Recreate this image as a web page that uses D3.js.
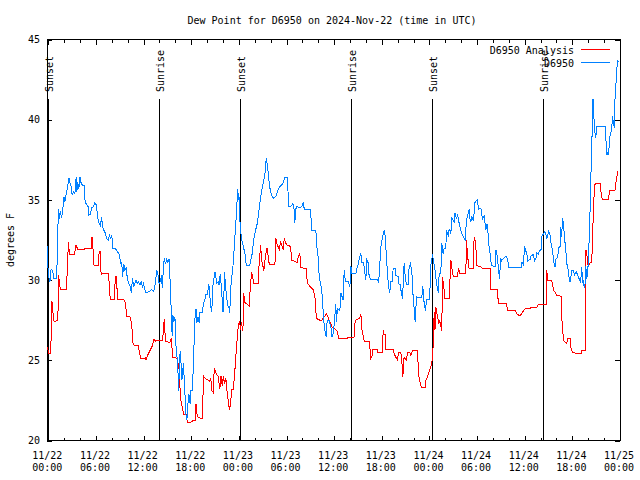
<!DOCTYPE html>
<html><head><meta charset="utf-8">
<script src="https://cdn.jsdelivr.net/npm/d3@7"></script>
<style>
body{margin:0;background:#fff}
svg text{font-family:"DejaVu Sans Mono",monospace;font-size:10px;fill:#000}
</style></head>
<body><svg id="c" width="640" height="480"></svg>
<script>
const baseTime = "2024-11-22T00:00:00Z";
const titleText = "Dew Point for D6950 on 2024-Nov-22 (time in UTC)";
const yLabel = "degrees F";
const seriesNames = ["D6950 Analysis", "D6950"];
const seriesColors = ["#ff0000", "#0080ff"];
const yTicks = [20, 25, 30, 35, 40, 45];
const sunEvents = ["Sunset", "Sunrise", "Sunset", "Sunrise", "Sunset", "Sunrise"];
const sunTimes = ["2024-11-22T00:00:00Z", "2024-11-22T13:58:00Z", "2024-11-23T00:10:00Z",
                  "2024-11-23T14:11:00Z", "2024-11-24T00:20:00Z", "2024-11-24T14:19:00Z"];

// hours since 2024-11-22 00:00 UTC
const analysisHours = [-0.15,0.1,0.25,0.35,0.45,0.55,0.65,0.75,1.2,1.3,1.45,1.6,2.3,2.35,2.45,2.55,2.65,3.3,3.5,3.7,
4.5,4.6,5.4,5.5,5.6,5.7,5.8,6.3,6.4,6.55,6.65,6.75,7.55,7.65,7.8,8.3,8.45,8.6,8.7,9.5,
9.7,9.9,10.3,10.5,10.65,10.8,11.35,11.5,11.65,12.2,12.3,12.5,12.8,13.1,13.3,13.5,14.0,14.4,14.6,14.75,
15.3,15.5,15.65,16.0,16.2,16.45,16.55,16.7,16.9,17.05,17.4,17.5,17.95,18.1,18.3,18.5,18.6,18.75,19.1,19.4,
19.55,19.7,20.3,20.45,20.6,20.75,20.9,21.1,21.4,21.6,21.75,21.9,22.05,22.2,22.35,22.5,22.65,22.8,22.95,23.1,
23.3,23.5,23.7,23.95,24.1,24.2,24.35,24.45,24.55,24.6,24.76,25.3,25.39,25.6,25.89,26.43,26.55,26.74,26.86,27.15,
27.35,27.55,27.69,27.82,28.54,28.66,28.83,29.1,29.25,29.58,29.71,29.92,30.01,30.51,30.64,31.34,31.47,31.68,31.77,32.02,
32.1,32.53,32.6,33.36,33.57,33.7,33.79,34.42,34.54,35.05,35.12,35.55,35.7,36.2,36.4,36.55,36.65,37.7,37.75,38.5,
38.6,38.8,39.2,39.36,39.5,39.78,40.4,40.5,40.6,40.75,40.84,41.47,41.5,42.1,42.17,42.3,42.42,42.5,43.43,43.55,
43.98,44.1,44.4,44.52,44.65,44.81,45.1,45.24,45.53,45.66,45.87,46.5,46.63,46.8,46.9,47.04,47.46,47.55,47.85,48.18,
48.3,48.45,48.6,48.7,48.8,49.0,49.2,49.3,49.55,49.65,49.85,49.9,50.48,50.7,50.9,51.0,51.55,51.65,51.83,52.58,
52.67,52.8,52.92,53.0,53.5,53.63,53.84,53.93,54.6,54.68,55.64,55.7,56.57,56.65,56.7,57.74,57.8,58.79,59.0,59.42,
59.7,60.05,60.68,60.8,61.52,61.73,62.56,62.7,62.78,62.9,63.4,63.62,64.04,64.58,64.66,64.88,65.29,65.42,65.71,65.84,
66.01,66.77,67.1,67.18,67.6,67.69,67.81,68.0,68.23,68.44,68.53,68.7,68.86,69.49,69.6,69.79,70.54,70.7,71.37,71.5,
71.71];
const analysisDewpoint = [25.8,25.4,25.4,26.3,28.7,28.3,27.5,27.4,27.5,30.3,29.6,29.4,29.4,30.2,31.5,32.4,31.6,31.6,32.2,31.9,
31.9,32.0,32.0,32.7,32.3,31.0,30.9,30.9,31.8,31.8,30.3,30.4,30.4,29.9,28.8,28.8,30.2,30.2,28.8,28.8,
28.6,27.7,27.7,27.3,26.1,25.95,25.9,25.4,25.1,25.15,25.0,25.3,25.6,25.9,26.3,26.2,26.25,26.25,27.6,26.2,
26.1,26.4,25.2,25.2,25.1,24.6,23.5,22.5,22.0,21.6,21.6,21.15,21.15,21.2,21.25,21.25,22.3,21.5,21.4,21.4,
24.0,23.9,23.7,23.9,23.1,23.0,24.5,24.2,24.0,23.2,24.0,23.4,24.0,23.5,23.9,23.1,22.5,21.9,22.3,23.2,
23.2,24.4,25.8,27.3,27.4,26.9,27.4,26.8,27.3,29.2,28.6,28.4,29.2,30.5,29.8,29.8,31.0,32.2,31.25,30.6,
31.5,32.0,31.5,31.0,31.0,32.6,32.2,31.9,32.4,31.9,32.6,32.3,32.2,32.1,31.25,31.1,31.45,31.7,30.8,30.8,
30.75,30.75,29.8,29.4,29.0,28.0,27.6,27.45,27.6,27.9,27.8,27.3,27.1,26.9,26.8,26.4,26.35,26.35,26.45,26.45,
27.3,27.55,27.6,27.9,26.9,26.2,26.2,25.8,25.1,25.2,25.7,25.7,25.5,25.5,26.9,26.6,26.6,25.7,25.7,25.4,
25.0,25.5,25.5,25.0,23.95,25.2,25.0,25.5,25.5,25.3,25.6,25.6,24.05,23.7,23.45,23.3,23.3,23.75,24.1,24.6,
24.8,25.75,28.0,26.9,28.3,27.8,27.3,27.5,26.8,30.2,29.4,28.85,28.85,31.25,30.5,30.25,30.25,30.75,30.4,30.4,
32.5,31.5,31.05,30.7,30.7,32.7,32.3,30.9,30.8,30.7,30.7,29.4,29.4,28.75,28.55,28.55,28.1,28.1,27.9,27.75,
28.0,28.2,28.2,28.3,28.3,28.5,28.5,28.5,30.6,30.0,30.0,29.4,29.05,29.0,27.7,26.25,26.05,26.35,26.35,25.7,
25.5,25.4,25.4,25.6,25.6,31.9,31.7,30.8,31.1,31.1,32.5,35.0,36.0,36.0,35.5,35.0,35.0,35.6,35.6,36.1,
36.8];

const stationHours = [-0.15,-0.05,0.05,0.2,0.35,0.55,0.7,1.0,1.1,1.2,1.3,1.4,1.5,1.65,1.8,1.95,2.1,2.3,2.45,2.6,
2.7,2.85,3.0,3.2,3.35,3.5,3.6,3.7,3.85,4.0,4.1,4.3,4.5,4.6,4.8,5.0,5.1,5.3,5.45,5.7,
5.85,6.05,6.2,6.4,6.55,6.7,6.85,7.0,7.2,7.35,7.55,7.7,7.85,8.0,8.1,8.4,8.55,8.8,8.95,9.1,
9.25,9.35,9.5,9.65,9.8,9.95,10.1,10.3,10.45,10.6,10.75,10.9,11.05,11.2,11.35,11.55,11.7,11.85,12.0,12.15,
12.3,12.5,12.75,13.0,13.2,13.35,13.5,13.65,13.8,13.95,14.1,14.25,14.35,14.5,14.6,14.75,14.9,15.05,15.2,15.3,
15.4,15.5,15.6,15.7,15.8,15.95,16.05,16.15,16.3,16.4,16.5,16.6,16.7,16.8,16.9,17.0,17.1,17.25,17.35,17.45,
17.55,17.7,17.85,17.95,18.15,18.25,18.35,18.45,18.6,18.7,18.85,19.0,19.1,19.4,19.55,19.7,19.85,20.05,20.2,20.3,
20.4,20.55,20.65,20.75,20.9,21.0,21.1,21.2,21.4,21.5,21.65,21.75,21.9,22.0,22.1,22.2,22.3,22.45,22.6,22.75,
22.85,22.95,23.05,23.2,23.3,23.45,23.55,23.7,23.85,23.95,24.05,24.15,24.3,24.5,24.6,24.75,24.9,25.0,25.35,25.5,
25.7,25.85,26.1,26.3,26.55,26.75,26.95,27.1,27.25,27.35,27.45,27.55,27.7,27.85,28.0,28.2,28.4,28.6,28.75,28.9,
29.1,29.35,29.6,29.75,30.1,30.2,30.3,30.55,30.7,30.8,30.95,31.05,31.15,31.3,31.7,31.95,32.1,32.25,32.7,33.03,
33.16,33.7,33.79,33.95,34.05,34.2,34.42,34.55,34.65,34.8,34.9,35.0,35.12,35.35,35.5,35.6,35.7,35.9,36.05,36.2,
36.3,36.4,36.72,36.85,37.13,37.26,37.4,37.5,37.8,37.98,38.1,38.25,38.73,38.9,39.07,39.15,39.36,39.49,39.7,39.87,
40.0,40.08,40.3,40.41,40.62,41.47,41.6,41.75,41.9,42.09,42.3,42.42,42.6,42.75,42.85,43.0,43.14,43.3,43.43,43.68,
43.77,44.11,44.18,44.35,44.45,44.61,44.81,44.95,45.1,45.3,45.44,45.6,45.78,45.87,46.0,46.07,46.2,46.37,46.7,47.04,
47.13,47.26,47.33,47.5,47.63,47.96,48.05,48.2,48.39,48.55,48.72,48.89,49.14,49.22,49.43,49.56,49.72,49.85,50.06,50.15,
50.4,50.48,50.69,50.82,51.11,51.23,51.4,51.54,51.74,51.95,52.08,52.37,52.49,52.67,53.0,53.1,53.21,53.34,53.5,53.63,
53.75,54.05,54.18,54.47,54.68,54.88,55.01,55.1,55.25,55.35,55.44,55.6,55.7,55.85,56.27,56.36,56.57,56.7,56.85,56.95,
57.11,57.2,57.45,57.62,57.87,57.96,59.54,59.65,59.84,59.97,60.15,60.26,60.39,60.68,60.8,61.1,61.23,61.39,61.52,61.73,
61.81,62.06,62.15,62.36,62.5,62.65,62.78,62.9,62.99,63.19,63.32,63.49,63.62,63.82,63.91,64.16,64.25,64.45,64.55,64.66,
64.75,64.88,65.0,65.17,65.29,65.51,65.58,65.7,65.84,65.92,66.14,66.26,66.5,66.77,66.84,67.0,67.1,67.18,67.3,67.4,
67.5,67.6,67.69,67.81,67.94,68.03,68.15,68.23,68.3,68.44,68.53,68.6,68.69,68.78,68.94,69.07,70.12,70.2,70.35,70.45,
70.54,70.74,70.96,71.04,71.29,71.37,71.5,71.59,71.71,71.8];
const stationDewpoint = [32.1,30.8,30.2,29.9,30.7,30.6,30.1,30.1,31.0,33.3,34.4,33.8,34.3,33.9,34.2,35.2,34.9,35.5,35.9,36.35,
36.1,35.9,35.3,35.5,35.4,36.4,35.5,36.1,35.7,36.45,36.1,35.9,35.9,35.0,34.7,34.6,34.05,34.1,34.5,34.6,
34.8,34.7,33.95,33.5,33.4,33.9,33.3,33.1,32.9,32.6,32.5,32.8,32.6,32.8,32.0,32.0,31.9,31.7,31.6,31.05,
31.1,30.2,31.0,30.6,30.8,30.1,29.8,29.6,29.2,30.1,29.6,29.8,30.0,29.8,29.9,29.7,29.9,29.6,29.8,29.4,
29.2,29.25,29.3,29.4,29.3,29.4,29.9,30.6,30.4,29.8,29.9,30.3,29.5,30.8,31.35,31.0,31.3,31.1,31.3,30.4,
29.2,27.7,26.5,27.8,27.4,27.7,26.1,25.5,24.8,23.1,24.3,25.6,25.0,23.75,24.0,24.8,24.0,22.5,21.5,21.3,
22.1,22.9,22.3,23.1,23.1,24.5,26.0,27.5,28.2,27.3,27.7,27.3,28.0,28.0,28.55,28.75,29.1,29.1,29.75,29.4,
28.6,28.0,28.6,29.8,30.2,30.5,30.2,29.8,29.9,29.7,30.4,29.8,28.8,28.0,28.9,30.5,29.7,29.0,28.4,28.3,
27.95,29.2,30.0,30.6,31.1,32.3,33.1,34.2,35.7,35.0,35.2,33.5,32.7,32.2,32.0,31.7,31.05,30.9,30.9,31.25,
31.7,32.5,33.1,33.5,34.4,35.2,35.8,36.15,36.45,37.0,37.6,37.3,36.7,35.9,35.5,35.2,35.1,35.2,35.3,35.6,
35.8,35.9,36.1,36.4,36.4,35.4,34.6,34.6,34.7,34.8,34.4,33.55,34.4,34.6,34.5,34.6,34.8,34.4,34.4,34.4,
33.1,33.1,32.1,31.7,30.6,30.0,29.4,28.65,27.7,26.9,26.7,26.45,27.5,27.5,27.2,27.0,26.45,26.7,27.5,28.5,
27.4,28.2,28.1,29.2,28.75,30.6,30.0,29.9,29.9,29.6,30.9,30.4,30.4,30.8,31.05,31.35,31.65,31.1,31.1,30.4,
30.0,31.35,31.05,30.2,30.05,30.05,29.8,31.0,32.1,32.7,33.1,32.8,31.25,30.2,29.6,29.2,29.9,29.9,30.7,30.7,
30.3,30.2,29.7,29.7,29.2,28.85,31.05,30.2,29.7,29.7,30.8,31.0,30.6,29.6,28.55,28.3,27.4,28.95,28.9,28.9,
29.6,29.2,28.55,28.1,28.8,28.8,29.2,31.0,31.6,31.05,30.6,29.8,29.2,30.4,30.4,32.3,31.65,32.0,32.0,33.1,
32.7,33.2,32.9,33.85,33.65,34.2,33.8,34.1,33.55,33.1,32.9,32.6,32.5,33.75,34.4,33.8,33.6,34.0,33.7,34.2,
34.9,35.0,34.4,34.5,33.8,34.0,33.5,33.1,33.5,33.2,32.3,31.9,31.25,30.9,30.85,31.9,31.45,30.6,30.1,31.4,
31.2,31.3,31.4,31.5,31.3,30.8,30.8,31.1,30.95,32.1,31.8,31.65,31.2,31.3,31.5,31.6,31.2,31.3,31.7,31.6,
31.8,31.9,32.7,32.9,33.0,32.9,32.6,32.7,33.1,32.8,32.3,31.9,31.25,30.8,31.3,31.4,32.0,32.1,33.3,32.7,
33.85,33.6,32.7,31.9,31.05,30.6,30.2,29.9,30.3,30.6,30.6,30.3,30.5,30.2,30.1,29.9,30.2,30.8,29.8,30.0,
29.5,29.8,30.9,30.1,30.5,31.45,33.0,34.4,36.0,38.1,40.2,41.3,40.5,39.4,38.85,39.55,39.55,38.95,37.8,38.0,
37.8,39.0,39.4,40.2,39.5,41.25,42.3,43.1,43.65,43.6];

const baseMs = Date.parse(baseTime);
const toSeries = (hs, vs) => hs.map((h, i) => ({ t: new Date(baseMs + h * 3600000), v: vs[i] }));
const series = [toSeries(analysisHours, analysisDewpoint), toSeries(stationHours, stationDewpoint)];
console.log(analysisHours.length, analysisDewpoint.length, stationHours.length, stationDewpoint.length);

const svg = d3.select("#c");
const L = 47, R = 620, T = 39.5, B = 440.5;
const x = d3.scaleUtc()
  .domain([new Date("2024-11-21T23:50:00Z"), new Date("2024-11-25T00:00:00Z")])
  .range([L, R]);
const y = d3.scaleLinear().domain([20, 45]).range([B, T]);

svg.append("rect").attr("width", 640).attr("height", 480).attr("fill", "#fff");

const majorT = d3.utcHour.every(6);
const minorT = d3.utcHour.every(2);
const style = g => { g.select(".domain").remove(); g.selectAll("line").attr("stroke", "#000").attr("shape-rendering", "crispEdges"); };

// bottom axis
svg.append("g").attr("transform", `translate(0,${B})`)
  .call(d3.axisBottom(x).ticks(minorT).tickSizeInner(-3).tickSizeOuter(0).tickFormat(""))
  .call(style).selectAll("text").remove();
const bx = svg.append("g").attr("transform", `translate(0,${B})`)
  .call(d3.axisBottom(x).ticks(majorT).tickSizeInner(-5).tickSizeOuter(0))
  .call(style);
bx.selectAll(".tick text").each(function (d) {
  const t = d3.select(this).attr("y", null).attr("dy", null).text(null).attr("fill", "#000");
  t.append("tspan").attr("x", -1.5).attr("y", 18).text(d3.utcFormat("%m/%d")(d));
  t.append("tspan").attr("x", -1.5).attr("y", 30.5).text(d3.utcFormat("%H:%M")(d));
});
// top axis
svg.append("g").attr("transform", `translate(0,${T})`)
  .call(d3.axisTop(x).ticks(minorT).tickSizeInner(-3).tickSizeOuter(0).tickFormat(""))
  .call(style).selectAll("text").remove();
svg.append("g").attr("transform", `translate(0,${T})`)
  .call(d3.axisTop(x).ticks(majorT).tickSizeInner(-5).tickSizeOuter(0).tickFormat(""))
  .call(style).selectAll("text").remove();
// left axis
svg.append("g").attr("transform", `translate(${L},0)`)
  .call(d3.axisLeft(y).tickValues(yTicks).tickSizeInner(-5).tickSizeOuter(0).tickPadding(7).tickFormat(d3.format("d")))
  .call(style).selectAll("text").attr("fill", "#000");
// right axis
svg.append("g").attr("transform", `translate(${R},0)`)
  .call(d3.axisRight(y).tickValues(yTicks).tickSizeInner(-5).tickSizeOuter(0).tickFormat(""))
  .call(style).selectAll("text").remove();

// sunrise / sunset markers
const sun = sunTimes.map((s, i) => ({ t: new Date(s), name: sunEvents[i] }));
const sg = svg.append("g");
sg.selectAll("line").data(sun).join("line")
  .attr("x1", d => x(d.t)).attr("x2", d => x(d.t))
  .attr("y1", 99).attr("y2", B)
  .attr("stroke", "#000").attr("shape-rendering", "crispEdges");
sg.selectAll("text").data(sun).join("text")
  .attr("transform", d => `translate(${x(d.t) + 5},92) rotate(-90)`)
  .attr("text-anchor", "start").text(d => d.name);

// border
svg.append("rect").attr("x", L + 0.5).attr("y", T).attr("width", R - L).attr("height", B - T)
  .attr("fill", "none").attr("stroke", "#000").attr("shape-rendering", "crispEdges");

// data lines
const line = d3.line().x(d => x(d.t)).y(d => y(d.v));
series.forEach((s, i) => {
  svg.append("path").datum(s).attr("d", line)
    .attr("fill", "none").attr("stroke", seriesColors[i]).attr("stroke-width", 1)
    .attr("shape-rendering", "crispEdges");
});

// legend
const lg = svg.append("g");
seriesNames.forEach((n, i) => {
  const yy = 49.5 + i * 12.5;
  lg.append("text").attr("x", 574).attr("y", yy + 4.5).attr("text-anchor", "end").text(n);
  lg.append("line").attr("x1", 581).attr("x2", 610).attr("y1", yy).attr("y2", yy)
    .attr("stroke", seriesColors[i]).attr("shape-rendering", "crispEdges");
});

// title and y label
svg.append("text").attr("x", 332).attr("y", 24).attr("text-anchor", "middle").text(titleText);
svg.append("text").attr("transform", "translate(14,240) rotate(-90)").attr("text-anchor", "middle").text(yLabel);
</script>
</body></html>
